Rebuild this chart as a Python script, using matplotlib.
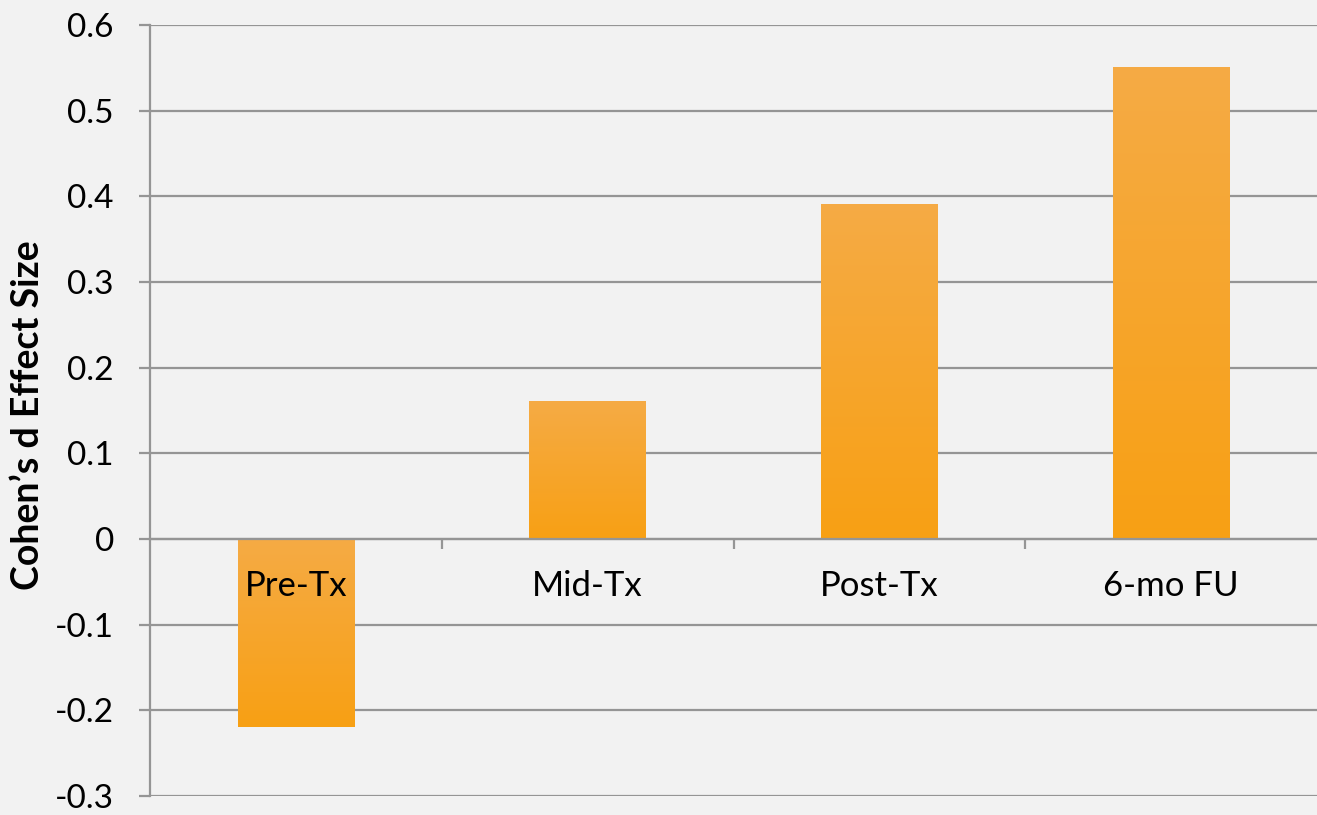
import numpy as np
import matplotlib
matplotlib.use("Agg")
import matplotlib.pyplot as plt
from matplotlib.colors import LinearSegmentedColormap

categories = ["Pre-Tx", "Mid-Tx", "Post-Tx", "6-mo FU"]
values = [-0.22, 0.16, 0.39, 0.55]
yticks = [-0.3, -0.2, -0.1, 0, 0.1, 0.2, 0.3, 0.4, 0.5, 0.6]
ytick_labels = ["-0.3", "-0.2", "-0.1", "0", "0.1", "0.2", "0.3", "0.4", "0.5", "0.6"]

plt.rcParams['font.family'] = ['Lato', 'DejaVu Sans']
bg = "#f2f2f2"
grid_c = "#959595"

fig = plt.figure(figsize=(13.17, 8.15), dpi=100, facecolor=bg)
ax = fig.add_axes([150/1317, 1 - 796/815, 1 - 150/1317, (796 - 25)/815])
ax.set_facecolor(bg)

# gridlines behind bars
for t in yticks:
    ax.axhline(t, color=grid_c, lw=1.6, zorder=0.5)

# gradient bars (lighter at the top of each bar)
cmap = LinearSegmentedColormap.from_list("bar", ["#f5ab45", "#f8a014"])
grad = np.linspace(0, 1, 256).reshape(-1, 1)
width = 0.4
x = np.arange(len(categories))
bars = ax.bar(x, values, width, color="none", edgecolor="none", zorder=1)
for b in bars:
    x0, y0 = b.get_x(), b.get_y()
    x1, y1 = x0 + b.get_width(), y0 + b.get_height()
    top, bot = max(y0, y1), min(y0, y1)
    ax.imshow(grad, cmap=cmap, aspect="auto", extent=(x0, x1, bot, top),
              origin="upper", zorder=1, interpolation="bicubic")
ax.set_xlim(-0.5, 3.5)
ax.set_ylim(-0.3, 0.6)

for s in ["top", "right"]:
    ax.spines[s].set_visible(False)
ax.spines["bottom"].set_position(("data", 0))
ax.spines["bottom"].set_color(grid_c)
ax.spines["bottom"].set_linewidth(1.6)
ax.spines["bottom"].set_zorder(2.5)
ax.spines["left"].set_color(grid_c)
ax.spines["left"].set_linewidth(1.6)

ax.set_yticks(yticks)
ax.set_yticklabels(ytick_labels)
ax.tick_params(axis="y", length=8, width=1.6, color=grid_c, pad=18, labelsize=24)

ax.set_xticks(x)
ax.set_xticklabels(categories)
ax.set_xticks([0.5, 1.5, 2.5], minor=True)
ax.tick_params(axis="x", which="major", length=0, pad=22, labelsize=25)
ax.tick_params(axis="x", which="minor", length=7, width=1.6, color=grid_c)

fig.text(28/1317, 1 - 415/815, "Cohen\u2019s d Effect Size", rotation=90,
         ha="center", va="center", fontsize=27, fontweight="bold")

fig.savefig("out.png", dpi=100, facecolor=bg)
